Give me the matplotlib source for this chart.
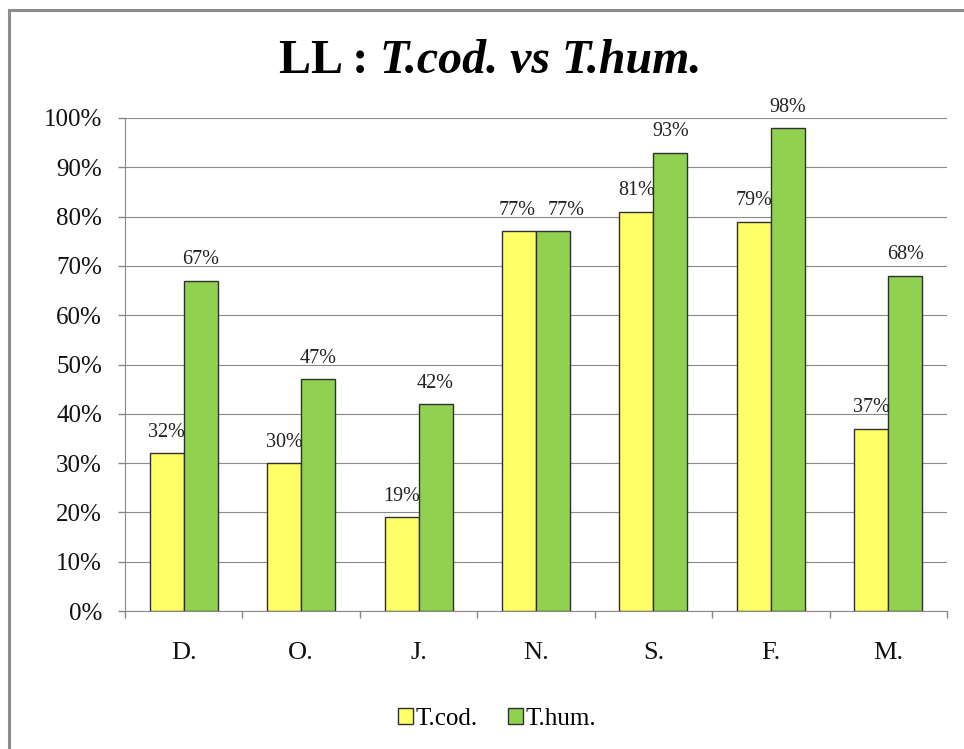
import matplotlib
matplotlib.use("Agg")
import matplotlib.pyplot as plt
from matplotlib.patches import Patch
from matplotlib.lines import Line2D
import numpy as np

categories = ["D.", "O.", "J.", "N.", "S.", "F.", "M."]
t_cod = [32, 30, 19, 77, 81, 79, 37]
t_hum = [67, 47, 42, 77, 93, 98, 68]
series_names = ["T.cod.", "T.hum."]
yticks = [0, 10, 20, 30, 40, 50, 60, 70, 80, 90, 100]

plt.rcParams['font.family'] = ['Liberation Serif', 'DejaVu Serif']

W, H = 964, 749
fig = plt.figure(figsize=(W / 100, H / 100), dpi=100)
ax = fig.add_axes([125 / W, 1 - 611 / H, (947 - 125) / W, (611 - 118) / H])

yellow = "#FFFF66"
green = "#92D050"
edge = "#303030"
bw = 0.29
x = np.arange(len(categories)) + 0.5
b1 = ax.bar(x - bw / 2, t_cod, bw, color=yellow, edgecolor=edge, linewidth=1.0, zorder=3)
b2 = ax.bar(x + bw / 2, t_hum, bw, color=green, edgecolor=edge, linewidth=1.0, zorder=3)

for si, (bars, vals) in enumerate(((b1, t_cod), (b2, t_hum))):
    for i, (rect, v) in enumerate(zip(bars, vals)):
        # nudge labels apart when the two bars of a group share the same height
        dx = 0
        if abs(t_cod[i] - t_hum[i]) < 3:
            dx = -1 if si == 0 else 9.5
        ax.annotate(f"{v}%", (rect.get_x() + rect.get_width() / 2, v),
                    xytext=(dx, 15), textcoords="offset points",
                    ha="center", va="center", fontsize=14.5, color="#222222", zorder=4)

ax.set_xlim(0, len(categories))
ax.set_ylim(0, 100)
ax.set_yticks(yticks)
ax.set_yticklabels([f"{v}%" for v in yticks])
ax.set_xticks(x)
ax.set_xticklabels(categories)
ax.set_xticks(np.arange(len(categories) + 1), minor=True)
ax.tick_params(axis="x", which="major", length=0, pad=22, labelsize=19, colors="#111111")
ax.tick_params(axis="x", which="minor", length=5, width=1, color="#888888", direction="out")
ax.tick_params(axis="y", which="major", length=5, width=1, color="#888888", direction="out",
               pad=11.5, labelsize=18, labelcolor="#111111")

ax.grid(axis="y", color="#8a8a8a", linewidth=0.8, zorder=0)
ax.set_axisbelow(True)
for s in ("top", "right"):
    ax.spines[s].set_visible(False)
for s in ("left", "bottom"):
    ax.spines[s].set_color("#888888")
    ax.spines[s].set_linewidth(0.8)

# outer chart border
fig.add_artist(Line2D([9 / W, 9 / W], [0, 1 - 10 / H], transform=fig.transFigure,
                      color="#8c8c8c", linewidth=2.2))
fig.add_artist(Line2D([9 / W, 1], [1 - 10 / H, 1 - 10 / H], transform=fig.transFigure,
                      color="#8c8c8c", linewidth=2.2))

# title: bold "LL :" + bold italic rest
fig.canvas.draw()
r = fig.canvas.get_renderer()
t1 = fig.text(0, 1 - 61 / H, "LL : ", fontsize=34.5, fontweight="bold", va="center", ha="left")
t2 = fig.text(0, 1 - 61 / H, "T.cod. vs T.hum.", fontsize=34.5, fontweight="bold",
              fontstyle="italic", va="center", ha="left")
w1 = t1.get_window_extent(r).width
w2 = t2.get_window_extent(r).width
cx = 490
start = cx - (w1 + w2) / 2
t1.set_x(start / W)
t2.set_x((start + w1) / W)

handles = [Patch(facecolor=yellow, edgecolor=edge, linewidth=1.0),
           Patch(facecolor=green, edgecolor=edge, linewidth=1.0)]
fig.legend(handles, series_names, loc="center", bbox_to_anchor=(497 / W, 1 - 719 / H),
           ncol=2, frameon=False, fontsize=18, handlelength=0.6, handleheight=0.6,
           handletextpad=0.1, columnspacing=1.2)

fig.savefig("out.png", dpi=100)
